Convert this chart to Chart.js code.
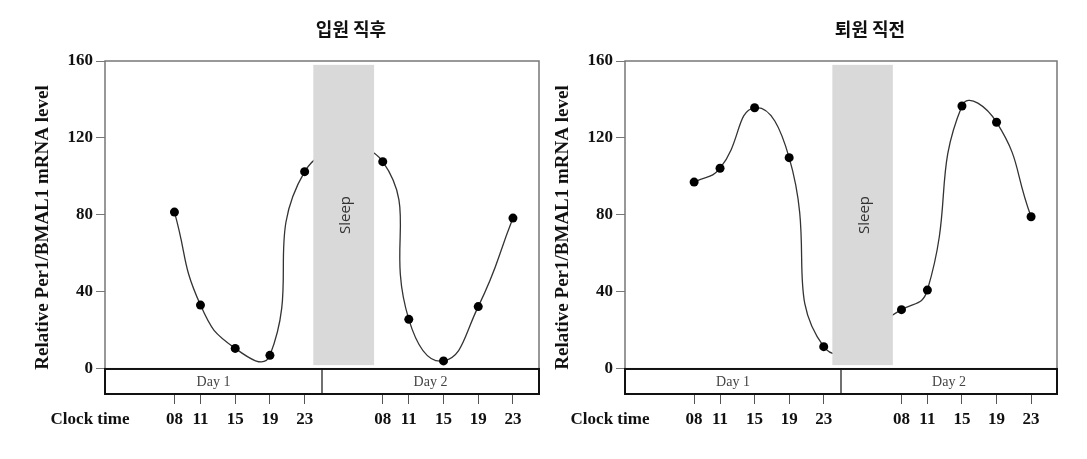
<!DOCTYPE html>
<html>
<head>
<meta charset="utf-8">
<script src="https://cdn.jsdelivr.net/npm/chart.js@4"></script>
<style>
  body { margin: 0; background: #fff; }
  .panel { position: absolute; top: 0; height: 459px; }
</style>
</head>
<body>
<div class="panel" style="left:26px"><canvas id="admitChart" width="520" height="459"></canvas></div>
<div class="panel" style="left:546px"><canvas id="dischargeChart" width="541" height="459"></canvas></div>
<script>
// hours since midnight of day 1 (day 2 = hour + 24)
const hours = [8, 11, 15, 19, 23, 32, 35, 39, 43, 47];
const clockLabels = ["08", "11", "15", "19", "23", "08", "11", "15", "19", "23"];
const admissionValues = [81.5, 33.2, 10.7, 7.1, 102.5, 107.7, 25.8, 4.2, 32.4, 78.4];
const dischargeValues = [97.1, 104.3, 135.7, 109.8, 11.6, 30.8, 41.0, 136.6, 128.2, 79.1];
const yTickValues = [0, 40, 80, 120, 160];
const sleepHours = [24, 31];
const dayLabels = ["Day 1", "Day 2"];
const panelTitles = ["입원 직후", "퇴원 직전"];

const serif = "'Liberation Serif', 'Times New Roman', serif";

const panelDeco = {
  id: "panelDeco",
  afterDatasetsDraw(chart, args, opts) {
    const { ctx, chartArea: a, scales: { x, y } } = chart;
    const zero = y.getPixelForValue(0);
    ctx.save();

    // sleep band
    const sx0 = x.getPixelForValue(sleepHours[0]);
    const sx1 = x.getPixelForValue(sleepHours[1]);
    const sTop = y.getPixelForValue(158);
    const sBot = y.getPixelForValue(2);
    ctx.fillStyle = "#d9d9d9";
    ctx.fillRect(sx0, sTop, sx1 - sx0, sBot - sTop);
    ctx.save();
    ctx.translate((sx0 + sx1) / 2 + 2, y.getPixelForValue(80));
    ctx.rotate(-Math.PI / 2);
    ctx.font = "15px 'Open Sans', sans-serif";
    ctx.fillStyle = "#333";
    ctx.textAlign = "center";
    ctx.textBaseline = "middle";
    ctx.fillText("Sleep", 0, 0);
    ctx.restore();

    // plot frame
    ctx.strokeStyle = "#777";
    ctx.lineWidth = 1.5;
    ctx.beginPath();
    ctx.moveTo(a.left, a.bottom);
    ctx.lineTo(a.left, a.top);
    ctx.lineTo(a.right, a.top);
    ctx.lineTo(a.right, zero);
    ctx.stroke();

    // day strip
    ctx.fillStyle = "#fff";
    ctx.fillRect(a.left, zero, a.right - a.left, a.bottom - zero);
    ctx.strokeStyle = "#111";
    ctx.lineWidth = 2;
    ctx.strokeRect(a.left, zero, a.right - a.left, a.bottom - zero);
    const mid = x.getPixelForValue((x.min + x.max) / 2);
    ctx.lineWidth = 1.2;
    ctx.beginPath();
    ctx.moveTo(mid, zero);
    ctx.lineTo(mid, a.bottom);
    ctx.stroke();
    ctx.font = "14px " + serif;
    ctx.fillStyle = "#444";
    ctx.textAlign = "center";
    ctx.textBaseline = "middle";
    ctx.fillText(dayLabels[0], (a.left + mid) / 2, (zero + a.bottom) / 2 + 1);
    ctx.fillText(dayLabels[1], (mid + a.right) / 2, (zero + a.bottom) / 2 + 1);

    // x axis caption
    ctx.font = "bold 17px " + serif;
    ctx.fillStyle = "#111";
    ctx.fillText("Clock time", a.left - 15, a.bottom + 26);

    // panel title
    ctx.font = "bold 18px 'Noto Sans CJK KR', sans-serif";
    ctx.fillText(opts.title, (a.left + a.right) / 2 + 29, 29);
    ctx.restore();
  }
};

function makeChart(id, values, title, rightPad) {
  new Chart(document.getElementById(id), {
    type: "line",
    data: {
      datasets: [{
        data: hours.map((h, i) => ({ x: h, y: values[i] })),
        borderColor: "#333",
        borderWidth: 1.3,
        tension: 0.5,
        pointRadius: 4.5,
        pointBackgroundColor: "#000",
        pointBorderWidth: 0,
        fill: false
      }]
    },
    options: {
      responsive: false,
      animation: false,
      layout: { padding: { top: 61, right: rightPad, bottom: 25, left: 0 } },
      plugins: {
        legend: { display: false },
        tooltip: { enabled: false },
        panelDeco: { title: title }
      },
      scales: {
        x: {
          type: "linear",
          min: 0,
          max: 50,
          afterBuildTicks: s => { s.ticks = hours.map(v => ({ value: v })); },
          afterFit: s => { s.height = 40; },
          grid: { drawOnChartArea: false, drawTicks: true, tickLength: 10, color: "#555" },
          border: { display: false },
          ticks: {
            autoSkip: false,
            maxRotation: 0,
            padding: 5,
            color: "#111",
            font: { family: serif, size: 17, weight: "bold" },
            callback: (v, i) => clockLabels[i]
          }
        },
        y: {
          min: -13,
          max: 160,
          afterBuildTicks: s => { s.ticks = yTickValues.map(v => ({ value: v })); },
          afterFit: s => { s.width = 79; },
          grid: { drawOnChartArea: false, drawTicks: true, tickLength: 9, color: "#777" },
          border: { display: false },
          ticks: {
            padding: 3,
            color: "#111",
            font: { family: serif, size: 17, weight: "bold" }
          },
          title: {
            display: true,
            text: "Relative Per1/BMAL1 mRNA level",
            color: "#111",
            padding: { top: 6, bottom: 0 },
            font: { family: serif, size: 19, weight: "bold" }
          }
        }
      }
    },
    plugins: [panelDeco]
  });
}

makeChart("admitChart", admissionValues, panelTitles[0], 7);
makeChart("dischargeChart", dischargeValues, panelTitles[1], 30);
</script>
</body>
</html>
